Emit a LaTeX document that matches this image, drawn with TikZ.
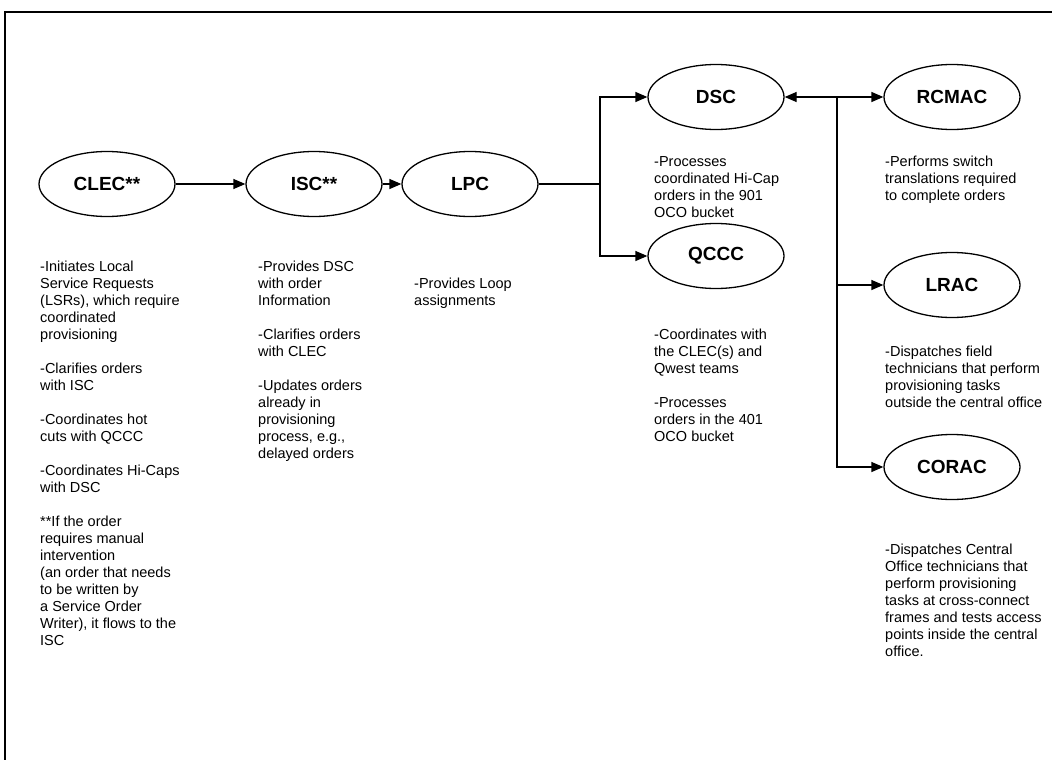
\documentclass[tikz,border=0pt]{standalone}
\usepackage{fontspec}
\setmainfont{Liberation Sans}
\usetikzlibrary{shapes.geometric,arrows.meta}
\begin{document}
\begin{tikzpicture}[x=1pt,y=-1pt,
  unit/.style={ellipse,draw,line width=1.3pt,minimum width=136pt,minimum height=65pt,inner sep=0pt,font=\fontsize{19}{22}\selectfont\bfseries},
  desc/.style={anchor=north west,inner sep=0pt,align=left,font=\fontsize{14.5}{17}\selectfont},
  conn/.style={line width=1.3pt},
  arr/.style={conn,-{Triangle[length=12pt,width=10pt]}},
  frame/.style={line width=1.5pt}]
\useasboundingbox (0,0) rectangle (1052,760);
\draw[frame] (1052,12) -- (5,12) -- (5,760);
% units
\node[unit] (clec) at (107,184) {CLEC**};
\node[unit] (isc) at (314,184) {ISC**};
\node[unit] (lpc) at (470,184) {LPC};
\node[unit] (dsc) at (716,97) {DSC};
\node[unit] (qccc) at (716,256) {QCCC};
\node[unit] (rcmac) at (952,97) {RCMAC};
\node[unit] (lrac) at (952,285) {LRAC};
\node[unit] (corac) at (952,467) {CORAC};
% junctions
\coordinate (j1) at (600,184);
\coordinate (j2) at (837,97);
% connectors
\draw[arr] (clec) -- (isc);
\draw[arr] (isc) -- (lpc);
\draw[conn] (lpc) -- (j1);
\draw[arr] (j1) |- (dsc);
\draw[arr] (j1) |- (qccc);
\draw[arr] (j2) -- (dsc);
\draw[arr] (j2) -- (rcmac);
\draw[arr] (j2) |- (lrac);
\draw[arr] (j2) |- (corac);
% descriptions
\node[desc] (tclec) at (40,261) {-Initiates Local\\Service Requests\\(LSRs), which require\\coordinated\\provisioning\\[17pt]-Clarifies orders\\with ISC\\[17pt]-Coordinates hot\\cuts with QCCC\\[17pt]-Coordinates Hi-Caps\\with DSC\\[17pt]**If the order\\requires manual\\intervention\\(an order that needs\\to be written by\\a Service Order\\Writer), it flows to the\\ISC};
\node[desc] (tisc) at (258,261) {-Provides DSC\\with order\\Information\\[17pt]-Clarifies orders\\with CLEC\\[17pt]-Updates orders\\already in\\provisioning\\process, e.g.,\\delayed orders};
\node[desc] (tlpc) at (414,278) {-Provides Loop\\assignments};
\node[desc] (tdsc) at (654,156) {-Processes\\coordinated Hi-Cap\\orders in the 901\\OCO bucket};
\node[desc] (tqccc) at (654,329) {-Coordinates with\\the CLEC(s) and\\Qwest teams\\[17pt]-Processes\\orders in the 401\\OCO bucket};
\node[desc] (trcmac) at (885,156) {-Performs switch\\translations required\\to complete orders};
\node[desc] (tlrac) at (885,346) {-Dispatches field\\technicians that perform\\provisioning tasks\\outside the central office};
\node[desc] (tcorac) at (885,544) {-Dispatches Central\\Office technicians that\\perform provisioning\\tasks at cross-connect\\frames and tests access\\points inside the central\\office.};
\end{tikzpicture}
\end{document}
